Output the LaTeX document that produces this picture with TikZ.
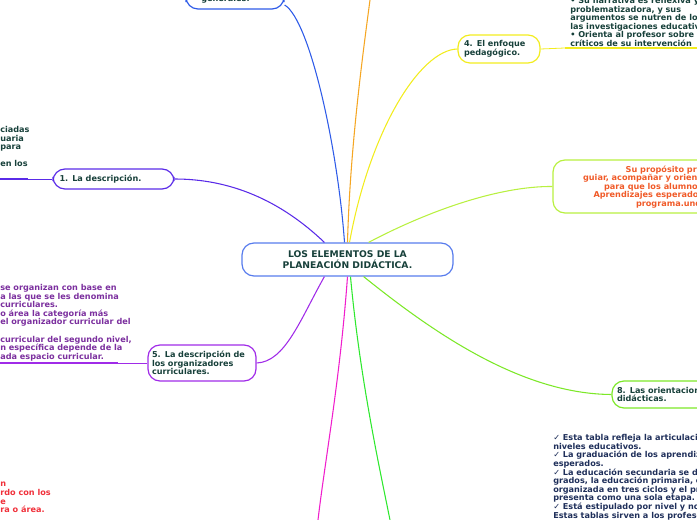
\documentclass[tikz,border=0pt]{standalone}
\usepackage{fontspec}
\setmainfont{DejaVu Sans}
\begin{document}
\begin{tikzpicture}[x=0.75pt,y=-0.75pt,
  box/.style={draw,line width=0.9pt,rounded corners=9pt,align=left,font=\bfseries\fontsize{6.1}{6.6}\selectfont,inner sep=0pt},
  txt/.style={font=\bfseries\fontsize{6.1}{6.45}\selectfont,align=left,inner sep=0pt,anchor=north west},
  con/.style={line width=0.8pt}]
\useasboundingbox (0,0) rectangle (697,520);
\definecolor{tx}{HTML}{17403A}
\definecolor{cblue}{HTML}{2E5BE8}
\definecolor{cpur}{HTML}{5A2BE8}
\definecolor{cvio}{HTML}{A02BE8}
\definecolor{cyel}{HTML}{F2EC1E}
\definecolor{clg}{HTML}{B8F040}
\definecolor{cgr}{HTML}{7CE828}
\definecolor{cor}{HTML}{F5A623}
\definecolor{cmag}{HTML}{F01ECC}
\definecolor{cgreen}{HTML}{2EE82E}
\definecolor{tpur}{HTML}{7B2F9E}
\definecolor{tred}{HTML}{F0303A}
\definecolor{tor}{HTML}{F05A28}
\definecolor{tnav}{HTML}{1F2F5A}
\begin{scope}[box/.append style={text=tx}]
\node[box,draw=cblue!80,minimum width=211*0.75pt,minimum height=33*0.75pt,align=center,font=\bfseries\fontsize{6.9}{8.4}\selectfont] (c) at (347.5,259.5) {LOS ELEMENTOS DE LA\\PLANEACIÓN DIDÁCTICA.};
\node[box,draw=cblue,minimum width=98*0.75pt,minimum height=19*0.75pt] (g) at (235,-0.5) {};
\node[txt,text=tx,anchor=base west] (gt) at (201,2) {generales.};
\node[box,draw=cyel,minimum width=82*0.75pt,minimum height=28*0.75pt,text width=70*0.75pt] (p4) at (499,49) {4. El enfoque\\pedagógico.};
\node[box,draw=clg,minimum width=160*0.75pt,minimum height=53*0.75pt] (pr) at (633,186.5) {};
\node[txt,anchor=center,align=center,text=tor,font=\bfseries\fontsize{6.1}{6.4}\selectfont] (prt) at (683,187) {Su propósito principal es\\guiar, acompañar y orientar a la planeación\\para que los alumnos alcancen los\\Aprendizajes esperados incluidos en el\\programa.undefined};
\node[box,draw=cgr,minimum width=110*0.75pt,minimum height=27*0.75pt,text width=100*0.75pt] (p8) at (667,394.5) {8. Las orientaciones\\didácticas.};
\node[box,draw=cvio,minimum width=108*0.75pt,minimum height=36*0.75pt,text width=100*0.75pt] (p5) at (202,363) {5. La descripción de\\los organizadores\\curriculares.};
\node[box,draw=cpur,minimum width=121*0.75pt,minimum height=20*0.75pt,text width=108*0.75pt] (p1) at (113.5,179) {1. La descripción.};
\end{scope}
\coordinate (ot) at (370,0);
\coordinate (gb) at (390,520); \coordinate (mb) at (318,520);
\draw[con,cblue] (c.north)++(-3,0) .. controls (338,150) and (310,20) .. (g.east|-0,5);
\draw[con,cor] (c.north)++(0,0) .. controls (350,150) and (362,60) .. (ot);
\draw[con,cyel] (c.north)++(2,0) .. controls (370,130) and (420,50) .. (p4.west);
\draw[con,clg] (c.north east)++(-85,0) .. controls (430,210) and (500,186) .. (pr.west);
\draw[con,cgr] (c.south east)++(-90,0) .. controls (430,330) and (520,394) .. (p8.west);
\draw[con,cgreen] (c.south)++(3,0) .. controls (360,380) and (380,470) .. (gb);
\draw[con,cmag] (c.south)++(0,0) .. controls (340,380) and (325,460) .. (mb);
\draw[con,cvio] (c.south west)++(83,0) .. controls (300,320) and (285,362) .. (p5.east);
\draw[con,cpur] (c.north west)++(83,0) .. controls (280,200) and (230,179) .. (p1.east);
\node[txt,text=tx] (t4) at (570,-3) {• Su narrativa es reflexiva y\\problematizadora, y sus\\argumentos se nutren de los resultados\\las investigaciones educativas.\\• Orienta al profesor sobre elementos\\críticos de su intervención};
\coordinate (u4a) at (565,48); \coordinate (u4b) at (697,48);
\draw[cyel,line width=1.4pt] (u4a) -- (u4b);
\draw[cyel,line width=0.6pt] (p4.east) -- (u4a);
\node[txt,text=tx] (t1) at (0,126) {ciadas\\uaria\\para\\[6.45pt]en los};
\coordinate (u1a) at (0,179); \coordinate (u1b) at (28,179);
\draw[cpur,line width=1.4pt] (u1a) -- (u1b);
\draw[cpur,line width=0.6pt] (u1b) -- (p1.west);
\node[txt,text=tpur] (t5) at (0,284) {se organizan con base en\\a las que se les denomina\\curriculares.\\o área la categoría más\\el organizador curricular del\\[6.45pt]curricular del segundo nivel,\\n específica depende de la\\ada espacio curricular.};
\coordinate (u5a) at (0,363); \coordinate (u5b) at (118,363);
\draw[cvio,line width=1.4pt] (u5a) -- (u5b);
\draw[cvio,line width=0.6pt] (u5b) -- (p5.west);
\node[txt,text=tred] (tr) at (0,482) {n\\rdo con los\\e\\ra o área.};
\node[txt,text=tnav] (t8) at (553,434) {✓ Esta tabla refleja la articulación entre\\niveles educativos.\\✓ La graduación de los aprendizajes\\esperados.\\✓ La educación secundaria se desglosa en\\grados, la educación primaria, está\\organizada en tres ciclos y el preescolar\\presenta como una sola etapa.\\✓ Está estipulado por nivel y no por grado.\\Estas tablas sirven a los profesores para};
\end{tikzpicture}
\end{document}
